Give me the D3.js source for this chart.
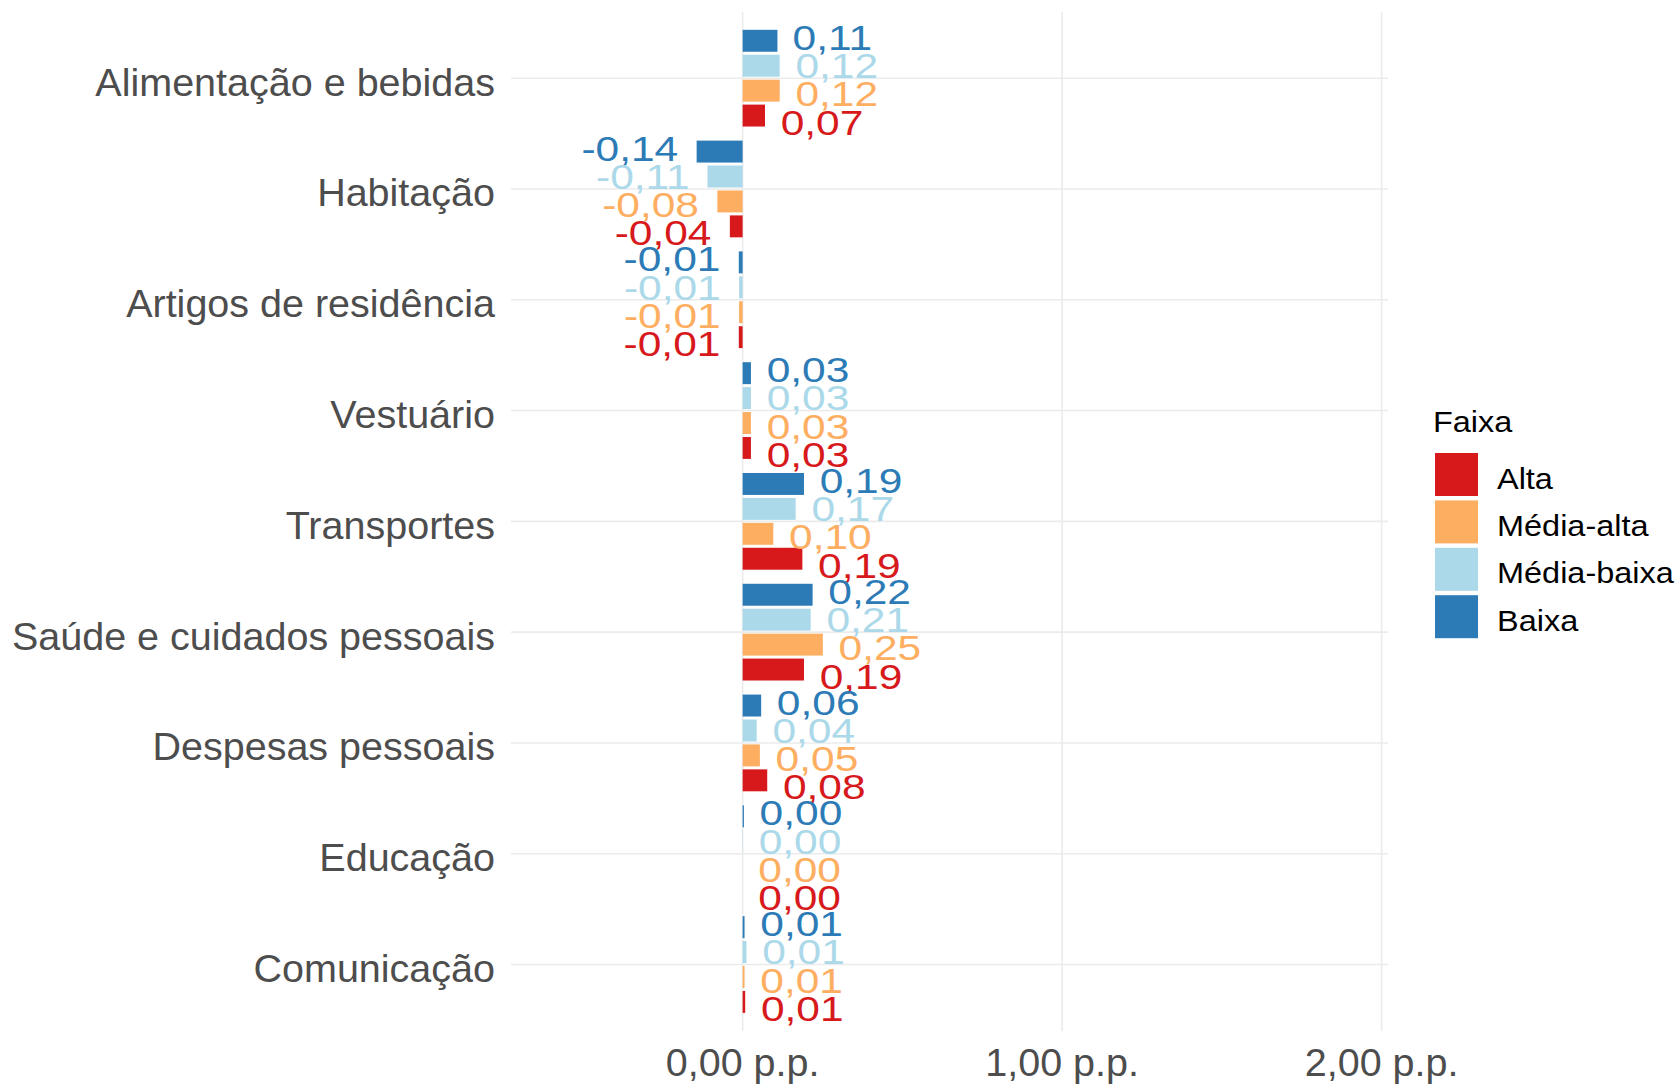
<!DOCTYPE html>
<html>
<head>
<meta charset="utf-8">
<script src="https://cdn.jsdelivr.net/npm/d3@7"></script>
<style>
  body { margin: 0; background: #fff; }
  text { font-family: "Liberation Sans", Arial, sans-serif; }
  .axis-label { fill: #4d4d4d; font-size: 39.5px; }
</style>
</head>
<body>
<div id="chart"></div>
<script>
// categories top to bottom
const categories = ["Alimentação e bebidas", "Habitação", "Artigos de residência", "Vestuário",
  "Transportes", "Saúde e cuidados pessoais", "Despesas pessoais", "Educação", "Comunicação"];
// series, drawn top to bottom inside each category
const groups = ["Baixa", "Média-baixa", "Média-alta", "Alta"];
const legendOrder = ["Alta", "Média-alta", "Média-baixa", "Baixa"];
const groupColors = ["#2c7bb6", "#abd9e9", "#fdae61", "#d7191c"];
// values in p.p.
const baixa      = [0.109, -0.144, -0.012, 0.026, 0.192, 0.219, 0.058, 0.004, 0.006];
const mediaBaixa = [0.116, -0.110, -0.011, 0.026, 0.166, 0.213, 0.044, 0.001, 0.012];
const mediaAlta  = [0.116, -0.079, -0.011, 0.026, 0.096, 0.251, 0.054, 0.000, 0.006];
const alta       = [0.070, -0.040, -0.012, 0.026, 0.187, 0.192, 0.077, 0.000, 0.008];
const xTicks = [0, 1, 2];

const width = 1679, height = 1085;
const panel = {left: 511, right: 1388, top: 11.7, bottom: 1031};

const seriesValues = [baixa, mediaBaixa, mediaAlta, alta];
const data = [];
categories.forEach((c, ci) => {
  groups.forEach((g, gi) => data.push({cat: c, group: g, value: seriesValues[gi][ci]}));
});

const svg = d3.select("#chart").append("svg")
  .attr("width", width).attr("height", height)
  .style("background", "#fff");

//scales
const xScale = d3.scaleLinear().domain([-0.725, 2.02]).range([panel.left, panel.right]);
const yScale = d3.scalePoint().domain(categories).range([panel.top, panel.bottom]).padding(0.6);
const step = yScale.step();
const subScale = d3.scaleBand().domain(groups)
  .range([-0.45 * step, 0.45 * step]).paddingInner(0.12).paddingOuter(0.06);
const textSlot = 0.255 * step; //labels are dodged a little wider than bars
const color = d3.scaleOrdinal().domain(groups).range(groupColors);

//grid
svg.append("g").selectAll("line").data(categories).join("line")
  .attr("x1", panel.left).attr("x2", panel.right)
  .attr("y1", d => yScale(d)).attr("y2", d => yScale(d))
  .attr("stroke", "#ebebeb").attr("stroke-width", 1.6);
svg.append("g").selectAll("line").data(xTicks).join("line")
  .attr("x1", d => xScale(d)).attr("x2", d => xScale(d))
  .attr("y1", panel.top).attr("y2", panel.bottom)
  .attr("stroke", "#ebebeb").attr("stroke-width", 1.6);

//bars
svg.append("g").selectAll("rect").data(data).join("rect")
  .attr("x", d => xScale(Math.min(0, d.value)))
  .attr("width", d => Math.abs(xScale(d.value) - xScale(0)))
  .attr("y", d => yScale(d.cat) + subScale(d.group))
  .attr("height", subScale.bandwidth())
  .attr("fill", d => color(d.group));

//value labels (text is drawn a bit stretched like the original)
const sx = 1.18;
const fmt = v => v.toFixed(2).replace(".", ",").replace(/^-0,00$/, "0,00");
const labels = svg.append("g").selectAll("text").data(data).join("text")
  .text(d => fmt(d.value))
  .attr("font-size", 36)
  .attr("fill", d => color(d.group))
  .attr("text-anchor", d => d.value < 0 ? "end" : "start");
labels.each(function(d) {
  const w = this.getComputedTextLength() * sx;
  const gi = groups.indexOf(d.group);
  const x = d.value < 0 ? xScale(d.value) - 0.19 * w : xScale(d.value) + 0.19 * w;
  const y = yScale(d.cat) + (gi - 1.5) * textSlot + 14;
  d3.select(this).attr("transform", `translate(${x},${y}) scale(${sx},1)`);
});

//y axis labels
svg.append("g").selectAll("text").data(categories).join("text")
  .attr("class", "axis-label")
  .attr("x", 495).attr("y", d => yScale(d) + 17.5)
  .attr("text-anchor", "end")
  .text(d => d);

//x axis labels
svg.append("g").selectAll("text").data(xTicks).join("text")
  .attr("class", "axis-label")
  .attr("x", d => xScale(d)).attr("y", 1076)
  .attr("text-anchor", "middle")
  .text(d => d.toFixed(2).replace(".", ",") + " p.p.");

//legend
const legend = svg.append("g");
legend.append("text").text("Faixa")
  .attr("font-size", 30).attr("fill", "#000")
  .attr("transform", "translate(1433,432) scale(1.08,1)");
const keyStep = 47.4, keySize = 43, keyTop = 453;
legend.selectAll("rect").data(legendOrder).join("rect")
  .attr("x", 1435).attr("y", (d, i) => keyTop + i * keyStep)
  .attr("width", keySize).attr("height", keySize)
  .attr("fill", d => color(d));
legend.selectAll("text.key").data(legendOrder).join("text")
  .attr("class", "key")
  .attr("font-size", 29).attr("fill", "#000")
  .attr("transform", (d, i) => `translate(1497,${keyTop + i * keyStep + keySize / 2 + 14}) scale(1.12,1)`)
  .text(d => d);
</script>
</body>
</html>
